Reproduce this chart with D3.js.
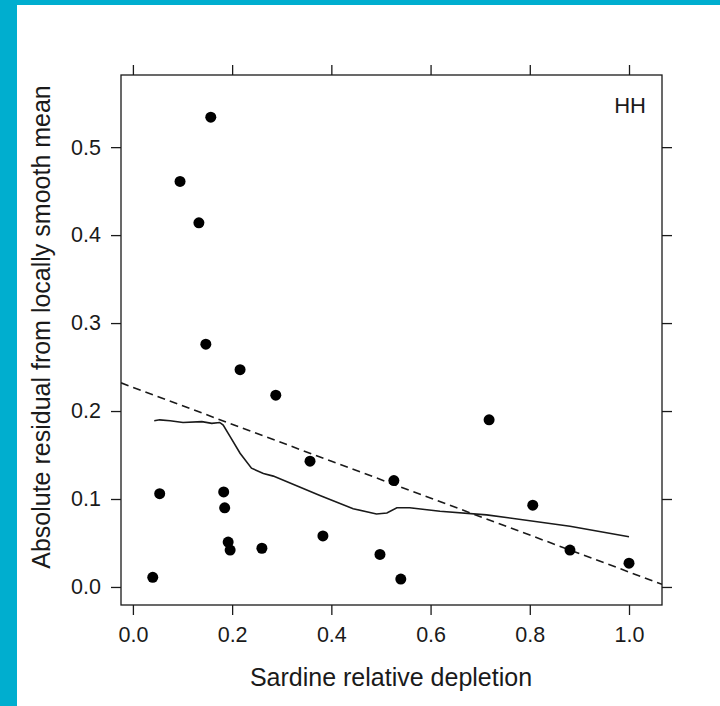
<!DOCTYPE html>
<html lang="en">
<head>
<meta charset="UTF-8">
<title>HH residuals</title>
<script src="https://cdn.jsdelivr.net/npm/d3@7"></script>
<style>
  body { margin: 0; background: #00aecf; }
  svg { display: block; }
  text { font-family: "Liberation Sans", Arial, sans-serif; fill: #1a1a1a; }
</style>
</head>
<body>
<script>
// data
const depletion = [0.040, 0.054, 0.095, 0.133, 0.157, 0.147, 0.183, 0.185, 0.192, 0.196, 0.216,
  0.260, 0.288, 0.357, 0.383, 0.498, 0.526, 0.540, 0.718, 0.806, 0.881, 1.000];
const absResid = [0.011, 0.106, 0.461, 0.414, 0.534, 0.276, 0.108, 0.090, 0.051, 0.042, 0.247,
  0.044, 0.218, 0.143, 0.058, 0.037, 0.121, 0.009, 0.190, 0.093, 0.042, 0.027];

// locally smooth mean of the residuals (solid line)
const smoothX = [0.043, 0.054, 0.075, 0.101, 0.139, 0.159, 0.175, 0.182, 0.196, 0.216, 0.239,
  0.263, 0.283, 0.330, 0.377, 0.444, 0.491, 0.512, 0.532, 0.558, 0.619, 0.713, 0.881, 1.000];
const smoothY = [0.189, 0.190, 0.189, 0.187, 0.188, 0.186, 0.187, 0.184, 0.171, 0.152, 0.135,
  0.129, 0.126, 0.115, 0.104, 0.089, 0.083, 0.084, 0.090, 0.090, 0.086, 0.082, 0.069, 0.057];

// straight fit (dashed line): intercept, slope
const fitLine = [0.227, -0.210];

const xTicks = [0.0, 0.2, 0.4, 0.6, 0.8, 1.0];
const yTicks = [0.0, 0.1, 0.2, 0.3, 0.4, 0.5];
const panelLabel = "HH";

const width = 720, height = 706;
const box = { left: 121, right: 662, top: 75, bottom: 605 };

const svg = d3.select("body").append("svg")
  .attr("width", width)
  .attr("height", height);

// white sheet on the cyan page
svg.append("rect")
  .attr("x", 17).attr("y", 5)
  .attr("width", width - 17).attr("height", height - 5)
  .attr("fill", "#ffffff");

const x = d3.scaleLinear().domain([-0.024, 1.0665]).range([box.left, box.right]);
const y = d3.scaleLinear().domain([-0.0205, 0.582]).range([box.bottom, box.top]);

const g = svg.append("g");

// ticks on all four sides, labels only left and bottom
const axisStyle = sel => {
  sel.select(".domain").remove();
  sel.selectAll("line").attr("stroke", "#1a1a1a").attr("stroke-width", 1.3);
  sel.selectAll("text").attr("font-size", 21.5).attr("fill", "#1a1a1a")
    .attr("font-family", "Liberation Sans, Arial, sans-serif");
};

g.append("g")
  .attr("transform", `translate(0,${box.bottom})`)
  .call(d3.axisBottom(x).tickValues(xTicks).tickFormat(d3.format(".1f")).tickSize(10).tickPadding(12))
  .call(axisStyle);

g.append("g")
  .attr("transform", `translate(0,${box.top})`)
  .call(d3.axisTop(x).tickValues(xTicks).tickFormat("").tickSize(10))
  .call(axisStyle);

g.append("g")
  .attr("transform", `translate(${box.left},0)`)
  .call(d3.axisLeft(y).tickValues(yTicks).tickFormat(d3.format(".1f")).tickSize(10).tickPadding(10))
  .call(axisStyle);

g.append("g")
  .attr("transform", `translate(${box.right},0)`)
  .call(d3.axisRight(y).tickValues(yTicks).tickFormat("").tickSize(10))
  .call(axisStyle);

// clip so the dashed fit stops at the panel edge
svg.append("clipPath").attr("id", "panel")
  .append("rect")
  .attr("x", box.left).attr("y", box.top)
  .attr("width", box.right - box.left).attr("height", box.bottom - box.top);

const inner = g.append("g").attr("clip-path", "url(#panel)");

const xd = x.domain();
inner.append("line")
  .attr("x1", x(xd[0])).attr("y1", y(fitLine[0] + fitLine[1] * xd[0]))
  .attr("x2", x(xd[1])).attr("y2", y(fitLine[0] + fitLine[1] * xd[1]))
  .attr("stroke", "#1a1a1a")
  .attr("stroke-width", 1.6)
  .attr("stroke-dasharray", "8,5");

const line = d3.line()
  .x((d, i) => x(smoothX[i]))
  .y(d => y(d));

inner.append("path")
  .attr("d", line(smoothY))
  .attr("fill", "none")
  .attr("stroke", "#1a1a1a")
  .attr("stroke-width", 1.6);

inner.selectAll("circle")
  .data(absResid)
  .enter()
  .append("circle")
  .attr("cx", (d, i) => x(depletion[i]))
  .attr("cy", d => y(d))
  .attr("r", 5.5)
  .attr("fill", "#000");

// panel box
g.append("rect")
  .attr("x", box.left).attr("y", box.top)
  .attr("width", box.right - box.left).attr("height", box.bottom - box.top)
  .attr("fill", "none")
  .attr("stroke", "#1a1a1a")
  .attr("stroke-width", 1.3);

g.append("text")
  .attr("x", 646).attr("y", 113)
  .attr("text-anchor", "end")
  .attr("font-size", 22)
  .text(panelLabel);

// axis titles
svg.append("text")
  .attr("x", 391)
  .attr("y", 686)
  .attr("text-anchor", "middle")
  .attr("font-size", 25)
  .text("Sardine relative depletion");

svg.append("text")
  .attr("transform", "translate(50,327) rotate(-90)")
  .attr("text-anchor", "middle")
  .attr("font-size", 25)
  .text("Absolute residual from locally smooth mean");
</script>
</body>
</html>
